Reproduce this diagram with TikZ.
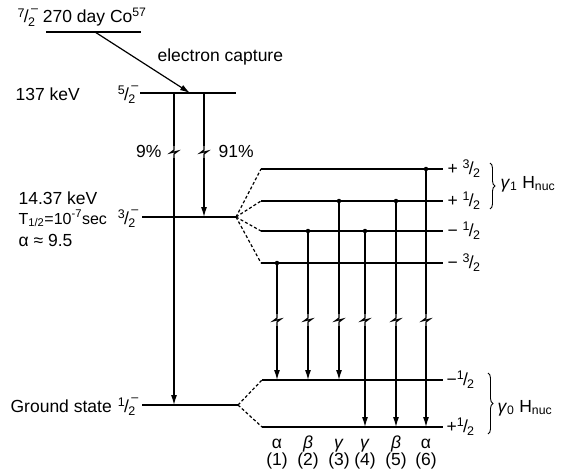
\documentclass[tikz,border=0pt]{standalone}
\usepackage{fontspec}
\setmainfont{Liberation Sans}
\usetikzlibrary{arrows.meta,decorations.pathreplacing}
\newcommand\fsm{\fontsize{12.5}{12.5}\selectfont}
\newcommand\fr[2]{\raisebox{.32em}{\fsm #1}\kern-.04em/\kern-.04em\raisebox{-.18em}{\fsm #2}}
\newcommand\frm[2]{\fr{#1}{#2}\kern-.22em\raisebox{.62em}{\fsm –}}
\begin{document}
\begin{tikzpicture}[x=1pt,y=-1pt,
  font=\fontsize{17.5}{19}\selectfont,
  line width=1.2pt,
  dsh/.style={dash pattern=on 3pt off 2.2pt},
  arr/.style={-{Latex[length=10pt,width=6pt]}},
  dotnode/.style={circle,fill,inner sep=0pt,minimum size=4.5pt},
  txt/.style={inner sep=0pt},
  brc/.style={decorate,decoration={brace,amplitude=5pt},line width=0.9pt},
  zz/.pic={\fill[white] (-3,-6) rectangle (3,6);
           \draw (0,-6) -- (0,-2) -- (-4,1) -- (4,-1) -- (0,2) -- (0,6);}]
\useasboundingbox (0,0) rectangle (566,471);

% ---- levels ----
\coordinate (coL) at (46,32);   \coordinate (coR) at (141,32);
\coordinate (ecS) at (95,32);   \coordinate (ecE) at (190,93);
\coordinate (hL) at (140,93);   \coordinate (hR) at (236,93);
\coordinate (mL) at (142,217);  \coordinate (mR) at (236,217);
\coordinate (gL) at (142,405);  \coordinate (gR) at (238,405);
\draw (coL) -- (coR);
\draw (hL) -- (hR);
\draw (mL) -- (mR);
\draw (gL) -- (gR);
\draw[arr] (ecS) -- (ecE);

% ---- texts, left ----
\node[txt,anchor=base west] (cotxt) at (17,23) {\frm72 270 day Co\textsuperscript{57}};
\node[txt,anchor=base west] (ectxt) at (157,61) {electron capture};
\node[txt,anchor=base west] (k137) at (15,100) {137 keV};
\node[txt,anchor=base east] (s52) at (139,100) {\frm52};
\node[txt,anchor=base west] (k14) at (18,204) {14.37 keV};
\node[txt,anchor=base west,font=\fontsize{16}{18}\selectfont] (thalf) at (18,224) {T\textsubscript{1/2}=10\textsuperscript{-7}sec};
\node[txt,anchor=base east] (s32) at (139,224) {\frm32};
\node[txt,anchor=base west] (alph) at (18,246) {α ≈ 9.5};
\node[txt,anchor=base west] (gs) at (10,412) {Ground state};
\node[txt,anchor=base east] (s12) at (139,412) {\frm12};
\node[txt,anchor=base east] (p9) at (162,157) {9\%};
\node[txt,anchor=base west] (p91) at (218,157) {91\%};

% ---- 9% and 91% branches ----
\coordinate (b9t) at (174,93);  \coordinate (b9b) at (174,405);
\coordinate (b91t) at (204,93); \coordinate (b91b) at (204,217);
\draw[arr] (b9t) -- (b9b);
\draw[arr] (b91t) -- (b91b);
\pic at (174,152) {zz};
\pic at (204,152) {zz};

% ---- excited state hyperfine levels ----
\coordinate (u1L) at (261,169); \coordinate (u1R) at (443,169);
\coordinate (u2L) at (261,201); \coordinate (u2R) at (443,201);
\coordinate (u3L) at (261,231); \coordinate (u3R) at (443,231);
\coordinate (u4L) at (261,263); \coordinate (u4R) at (443,263);
\foreach \i in {1,...,4}{
  \draw[dsh] (mR) -- (u\i L);
  \draw (u\i L) -- (u\i R);
}
\node[txt,anchor=west] (lu1) at (447,169) {+ \fr32};
\node[txt,anchor=west] (lu2) at (447,201) {+ \fr12};
\node[txt,anchor=west] (lu3) at (447,231) {− \fr12};
\node[txt,anchor=west] (lu4) at (447,263) {− \fr32};
\draw[brc] (490,163) coordinate (br1t) -- (490,209) coordinate (br1b);
\node[txt,anchor=base west] (g1) at (500,188) {\textit{γ}\textsubscript{1} H\textsubscript{nuc}};

% ---- ground hyperfine levels ----
\coordinate (d1L) at (262,380); \coordinate (d1R) at (443,380);
\coordinate (d2L) at (262,427); \coordinate (d2R) at (443,427);
\draw[dsh] (gR) -- (d1L);
\draw[dsh] (gR) -- (d2L);
\draw (d1L) -- (d1R);
\draw (d2L) -- (d2R);
\node[txt,anchor=west] (ld1) at (446,380) {−\fr12};
\node[txt,anchor=west] (ld2) at (446,427) {+\fr12};
\draw[brc] (488,373) coordinate (br0t) -- (488,434) coordinate (br0b);
\node[txt,anchor=base west] (g0) at (497,412) {\textit{γ}\textsubscript{0} H\textsubscript{nuc}};

% ---- six transitions ----
\foreach \n/\x/\yt/\yb/\lab in {1/277/263/380/α, 2/308/231/380/\textit{β}, 3/339/201/380/\textit{γ},
                                4/365/231/427/\textit{γ}, 5/396/201/427/\textit{β}, 6/426/169/427/α}{
  \node[dotnode] (t\n) at (\x,\yt) {};
  \coordinate (e\n) at (\x,\yb);
  \draw[arr] (t\n.center) -- (e\n);
  \pic at (\x,320) {zz};
  \node[txt,anchor=base] (gl\n) at (\x,448) {\lab};
  \node[txt,anchor=base] (nl\n) at (\x,465) {(\n)};
}
\end{tikzpicture}
\end{document}
